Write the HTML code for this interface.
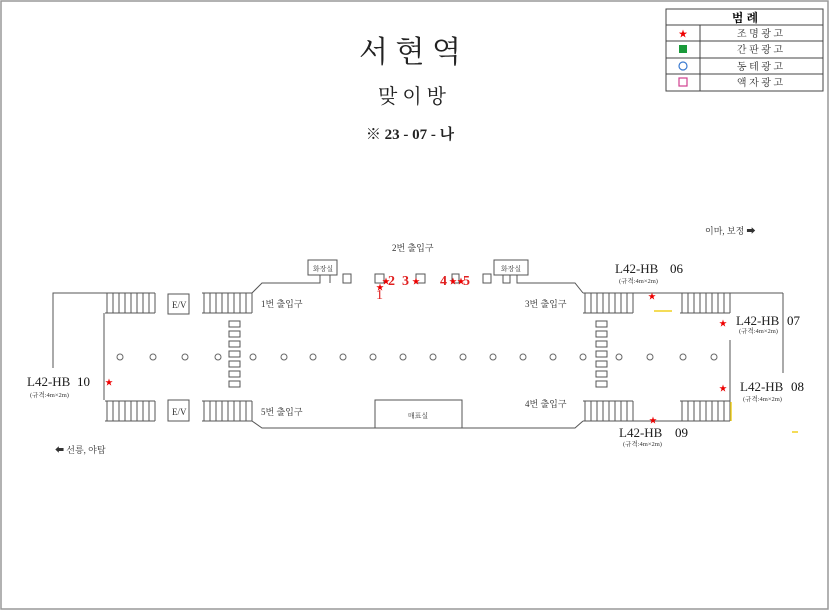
<!DOCTYPE html>
<html><head><meta charset="utf-8"><style>
html,body{margin:0;padding:0;background:#fff}
svg{display:block}
text{font-family:"Liberation Serif","Noto Serif CJK SC","Noto Sans CJK KR",serif}
</style></head><body>
<svg width="829" height="610" viewBox="0 0 829 610" xmlns="http://www.w3.org/2000/svg">
<rect x="1" y="1" width="827" height="608" fill="#fff" stroke="#999" stroke-width="1.5"/>
<text x="410" y="62" font-size="30" text-anchor="middle" fill="#222">서 현 역</text>
<text x="412" y="103" font-size="20" text-anchor="middle" fill="#222">맞 이 방</text>
<text x="410" y="139" font-size="15" font-weight="bold" text-anchor="middle" fill="#222" font-family="Liberation Sans,sans-serif">※ 23 - 07 - 나</text>
<!-- legend -->
<g stroke="#444" fill="none" stroke-width="1">
<rect x="666" y="9" width="157" height="82"/>
<line x1="666" y1="25" x2="823" y2="25"/><line x1="666" y1="41" x2="823" y2="41"/>
<line x1="666" y1="58" x2="823" y2="58"/><line x1="666" y1="74" x2="823" y2="74"/>
<line x1="700" y1="25" x2="700" y2="91"/>
</g>
<text x="745" y="22" font-size="12" font-weight="bold" text-anchor="middle">범 례</text>
<text x="683" y="37" font-size="9" fill="#e00" text-anchor="middle" font-family="DejaVu Sans,sans-serif">★</text>
<rect x="679" y="45" width="8" height="8" fill="#1a9a3a"/>
<circle cx="683" cy="66" r="4" fill="none" stroke="#3a7ad0" stroke-width="1.2"/>
<rect x="679" y="78" width="8" height="8" fill="none" stroke="#d04090" stroke-width="1.2"/>
<g font-size="10" text-anchor="middle" fill="#333">
<text x="760" y="37">조 명 광 고</text><text x="760" y="53">간 판 광 고</text>
<text x="760" y="70">동 테 광 고</text><text x="760" y="86">액 자 광 고</text></g>
<!-- structure -->
<g stroke="#555" fill="none" stroke-width="1">
<polyline points="53,368 53,293 105,293"/>
<line x1="104" y1="313" x2="104" y2="400"/>
<polyline points="252,293 262,283 320,283 320,275"/>
<polyline points="330,283 330,275"/>
<polyline points="252,421 262,428 575,428 583,421"/>
<polyline points="517,275 517,283 575,283 583,293"/>
<line x1="633" y1="293" x2="783" y2="293"/>
<line x1="783" y1="293" x2="783" y2="373"/>
<line x1="730" y1="340" x2="730" y2="421"/>
<line x1="633" y1="421" x2="730" y2="421"/>
<rect x="308" y="260" width="29" height="15"/>
<rect x="494" y="260" width="34" height="15"/>
<rect x="343" y="274" width="8" height="9"/><rect x="375" y="274" width="9" height="9"/>
<rect x="416" y="274" width="9" height="9"/><rect x="452" y="274" width="7" height="9"/>
<rect x="483" y="274" width="8" height="9"/><rect x="503" y="275" width="7" height="8"/>
<rect x="375" y="400" width="87" height="28"/>
<rect x="168" y="294" width="21" height="20"/><rect x="168" y="400" width="21" height="21"/>
</g>
<!-- stairs -->
<defs>
<g id="st" stroke="#555" fill="none" stroke-width="1">
<line x1="0" y1="0" x2="50" y2="0"/><line x1="0" y1="20" x2="50" y2="20"/>
<path d="M2 0V20M8 0V20M14 0V20M20 0V20M26 0V20M32 0V20M38 0V20M44 0V20M50 0V20"/>
</g>
<g id="bx" stroke="#555" fill="none"><rect x="0" y="0" width="11" height="6"/><rect x="0" y="10" width="11" height="6"/><rect x="0" y="20" width="11" height="6"/><rect x="0" y="30" width="11" height="6"/><rect x="0" y="40" width="11" height="6"/><rect x="0" y="50" width="11" height="6"/><rect x="0" y="60" width="11" height="6"/></g>
</defs>
<use href="#st" x="105" y="293"/><use href="#st" x="202" y="293"/>
<use href="#st" x="105" y="401"/><use href="#st" x="202" y="401"/>
<use href="#st" x="583" y="293"/><use href="#st" x="680" y="293"/>
<use href="#st" x="583" y="401"/><use href="#st" x="680" y="401"/>
<use href="#bx" x="229" y="321"/><use href="#bx" x="596" y="321"/>
<g stroke="#666" fill="none">
<circle cx="120" cy="357" r="3"/><circle cx="153" cy="357" r="3"/><circle cx="185" cy="357" r="3"/><circle cx="218" cy="357" r="3"/><circle cx="253" cy="357" r="3"/><circle cx="284" cy="357" r="3"/><circle cx="313" cy="357" r="3"/><circle cx="343" cy="357" r="3"/><circle cx="373" cy="357" r="3"/><circle cx="403" cy="357" r="3"/><circle cx="433" cy="357" r="3"/><circle cx="463" cy="357" r="3"/><circle cx="493" cy="357" r="3"/><circle cx="523" cy="357" r="3"/><circle cx="553" cy="357" r="3"/><circle cx="583" cy="357" r="3"/><circle cx="619" cy="357" r="3"/><circle cx="650" cy="357" r="3"/><circle cx="683" cy="357" r="3"/><circle cx="714" cy="357" r="3"/>
</g>
<g stroke="#f0d020" stroke-width="1.5"><line x1="654" y1="311" x2="672" y2="311"/><line x1="731" y1="402" x2="731" y2="421"/><line x1="792" y1="432" x2="798" y2="432"/></g>
<g font-size="9" fill="#333">
<text x="172" y="308" font-family="Liberation Serif,serif">E/V</text><text x="172" y="415" font-family="Liberation Serif,serif">E/V</text>
<text x="261" y="307">1번 출입구</text><text x="261" y="415">5번 출입구</text>
<text x="525" y="307">3번 출입구</text><text x="525" y="407">4번 출입구</text>
<text x="392" y="251">2번 출입구</text>
<text x="323" y="271" font-size="7" text-anchor="middle">화장실</text>
<text x="511" y="271" font-size="7" text-anchor="middle">화장실</text>
<text x="418" y="418" font-size="7" text-anchor="middle">매표실</text>
<text x="705" y="234">이마, 보정 ➡</text>
<text x="55" y="453">⬅ 선릉, 야탑</text>
</g>
<g font-size="13" fill="#222" font-family="Liberation Serif,serif">
<text x="615" y="273">L42-HB</text><text x="736" y="325">L42-HB</text>
<text x="740" y="391">L42-HB</text><text x="619" y="437">L42-HB</text>
<text x="27" y="386">L42-HB</text>
</g>
<g font-size="13" fill="#111" font-family="Liberation Sans,sans-serif">
<text x="670" y="273">06</text><text x="787" y="325">07</text><text x="791" y="391">08</text><text x="675" y="437">09</text><text x="77" y="386">10</text>
</g>
<g font-size="6.5" fill="#333">
<text x="619" y="283">(규격:4m×2m)</text><text x="739" y="333">(규격:4m×2m)</text>
<text x="743" y="401">(규격:4m×2m)</text><text x="623" y="446">(규격:4m×2m)</text>
<text x="30" y="397">(규격:4m×2m)</text>
</g>
<g fill="#e00" font-size="8" font-family="DejaVu Sans,sans-serif">
<text x="648" y="299">★</text><text x="719" y="326">★</text><text x="719" y="391">★</text>
<text x="649" y="423">★</text><text x="105" y="385">★</text>
<text x="376" y="290">★</text><text x="382" y="284">★</text><text x="412" y="284">★</text>
<text x="449" y="284">★</text><text x="457" y="284">★</text>
</g>
<g fill="#e02020" font-size="14" font-family="Liberation Sans,sans-serif" font-weight="bold">
<text x="388" y="285">2</text><text x="402" y="285">3</text><text x="440" y="285">4</text><text x="463" y="285">5</text>
<text x="376" y="299" font-weight="normal">1</text>
</g>
</svg>
</body></html>
